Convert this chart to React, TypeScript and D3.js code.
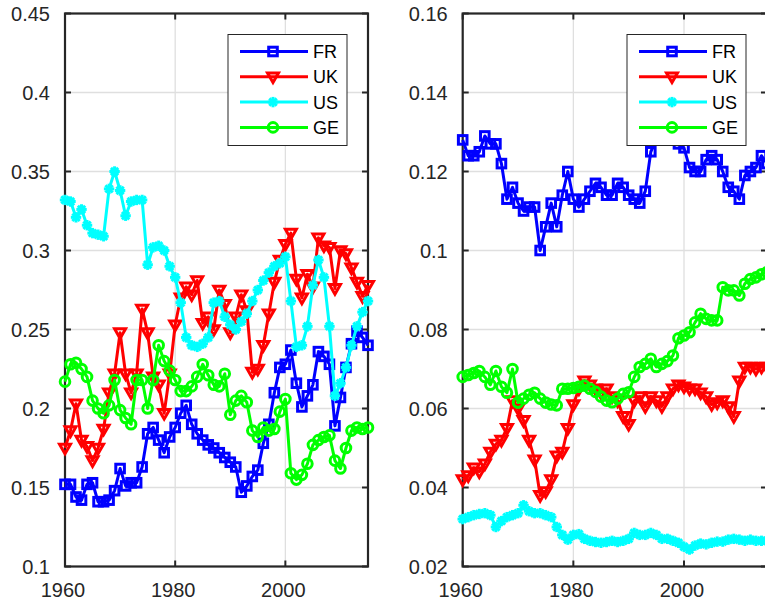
import React, { useEffect } from "react";
import * as d3 from "d3";

const years: number[] = d3.range(1960, 2016);
const seriesNames = ["FR", "UK", "US", "GE"];
const seriesColors = ["#0000ff", "#ff0000", "#00ffff", "#00ff00"];
const seriesMarkers = ["square", "triangle", "asterisk", "circle"];

// Left panel
const frLeft = [0.152,0.152,0.144,0.142,0.152,0.153,0.141,0.141,0.142,0.148,0.162,0.151,0.153,0.153,0.163,0.184,0.188,0.180,0.172,0.182,0.188,0.197,0.202,0.190,0.184,0.180,0.177,0.175,0.172,0.169,0.166,0.163,0.147,0.151,0.157,0.161,0.178,0.190,0.210,0.226,0.228,0.237,0.216,0.201,0.208,0.215,0.236,0.233,0.228,0.189,0.207,0.226,0.241,0.249,0.245,0.240];
const ukLeft = [0.175,0.186,0.203,0.180,0.176,0.167,0.175,0.187,0.210,0.222,0.248,0.222,0.210,0.222,0.263,0.248,0.220,0.215,0.197,0.222,0.253,0.270,0.277,0.272,0.281,0.254,0.258,0.250,0.275,0.266,0.248,0.258,0.272,0.262,0.223,0.225,0.240,0.260,0.280,0.294,0.304,0.311,0.282,0.270,0.285,0.277,0.308,0.303,0.302,0.276,0.300,0.298,0.289,0.280,0.271,0.278];
const usLeft = [0.332,0.331,0.321,0.326,0.316,0.311,0.310,0.309,0.339,0.350,0.338,0.322,0.331,0.332,0.332,0.291,0.302,0.303,0.300,0.290,0.283,0.267,0.245,0.240,0.239,0.241,0.245,0.267,0.268,0.258,0.253,0.250,0.255,0.260,0.268,0.275,0.281,0.286,0.290,0.292,0.296,0.268,0.239,0.240,0.252,0.278,0.294,0.283,0.252,0.208,0.216,0.226,0.240,0.252,0.261,0.268];
const geLeft = [0.217,0.228,0.229,0.225,0.220,0.205,0.200,0.197,0.202,0.218,0.199,0.194,0.190,0.218,0.218,0.200,0.218,0.240,0.230,0.224,0.218,0.211,0.211,0.214,0.220,0.228,0.221,0.215,0.214,0.222,0.196,0.205,0.208,0.204,0.186,0.182,0.188,0.186,0.187,0.198,0.206,0.159,0.155,0.158,0.165,0.177,0.180,0.182,0.183,0.167,0.162,0.175,0.186,0.188,0.187,0.188];

// Right panel
const frRight = [0.128,0.124,0.124,0.125,0.129,0.127,0.127,0.122,0.113,0.116,0.112,0.110,0.111,0.111,0.100,0.106,0.112,0.106,0.114,0.120,0.113,0.111,0.113,0.115,0.117,0.116,0.114,0.114,0.117,0.116,0.114,0.113,0.112,0.115,0.125,0.128,0.130,0.129,0.128,0.127,0.126,0.121,0.120,0.120,0.123,0.124,0.123,0.120,0.116,0.115,0.113,0.119,0.120,0.121,0.124,0.122];
const ukRight = [0.042,0.043,0.045,0.044,0.046,0.049,0.051,0.052,0.055,0.062,0.060,0.057,0.052,0.047,0.038,0.039,0.042,0.048,0.049,0.055,0.061,0.065,0.067,0.066,0.065,0.064,0.065,0.063,0.062,0.058,0.056,0.062,0.063,0.0605,0.063,0.062,0.0605,0.063,0.065,0.066,0.0655,0.065,0.065,0.064,0.063,0.061,0.0615,0.062,0.0605,0.058,0.067,0.0705,0.0705,0.070,0.0705,0.0705];
const usRight = [0.032,0.0325,0.033,0.0333,0.0335,0.033,0.030,0.0315,0.0325,0.033,0.0335,0.0355,0.034,0.0335,0.0335,0.033,0.0325,0.030,0.028,0.0268,0.028,0.0282,0.027,0.0265,0.0262,0.026,0.0262,0.0265,0.0262,0.0265,0.027,0.0285,0.028,0.028,0.0285,0.028,0.027,0.027,0.0265,0.026,0.025,0.0243,0.0253,0.0258,0.0256,0.026,0.0263,0.0263,0.0268,0.027,0.0268,0.0265,0.0268,0.0265,0.0265,0.0265];
const geRight = [0.068,0.0685,0.069,0.0695,0.068,0.066,0.0695,0.0655,0.064,0.070,0.0615,0.0625,0.0635,0.064,0.0625,0.0615,0.061,0.0608,0.065,0.065,0.0652,0.0655,0.0658,0.065,0.0642,0.063,0.062,0.0616,0.0625,0.0637,0.0641,0.068,0.0705,0.0713,0.0726,0.0705,0.0713,0.072,0.0734,0.0778,0.0785,0.0793,0.0818,0.084,0.0827,0.0823,0.0823,0.0907,0.0899,0.0899,0.0886,0.0916,0.0928,0.0932,0.094,0.0945];

const xTicks = [1960, 1980, 2000];
const leftYTicks = [0.1, 0.15, 0.2, 0.25, 0.3, 0.35, 0.4, 0.45];
const rightYTicks = [0.02, 0.04, 0.06, 0.08, 0.1, 0.12, 0.14, 0.16];

const AXIS = "#262626";
const GRID = "#dfdfdf";
const FONT = "'Liberation Sans', Arial, Helvetica, sans-serif";

function Marker({ type, x, y, color }: { type: string; x: number; y: number; color: string }) {
  const sw = 3;
  if (type === "square") {
    return <rect x={x - 4.3} y={y - 4.3} width={8.6} height={8.6} fill="none" stroke={color} strokeWidth={sw} />;
  }
  if (type === "triangle") {
    return (
      <path
        d={`M${x - 5.5},${y - 3.8}L${x + 5.5},${y - 3.8}L${x},${y + 5.8}Z`}
        fill="none"
        stroke={color}
        strokeWidth={sw}
        strokeLinejoin="miter"
      />
    );
  }
  if (type === "circle") {
    return <circle cx={x} cy={y} r={4.8} fill="none" stroke={color} strokeWidth={sw} />;
  }
  const r = 5.2;
  const d = r * 0.7071;
  return (
    <g stroke={color} strokeWidth={sw}>
      <line x1={x - r} y1={y} x2={x + r} y2={y} />
      <line x1={x} y1={y - r} x2={x} y2={y + r} />
      <line x1={x - d} y1={y - d} x2={x + d} y2={y + d} />
      <line x1={x - d} y1={y + d} x2={x + d} y2={y - d} />
    </g>
  );
}

type PanelProps = {
  left: number;
  right: number;
  top: number;
  bottom: number;
  yDomain: [number, number];
  yTicks: number[];
  data: number[][];
};

function Panel({ left, right, top, bottom, yDomain, yTicks, data }: PanelProps) {
  const x = d3.scaleLinear().domain([1960, 2015]).range([left, right]);
  const y = d3.scaleLinear().domain(yDomain).range([bottom, top]);
  const line = d3
    .line<number>()
    .x((_, i) => x(years[i]))
    .y((v) => y(v));
  const fmt = (v: number) => String(+v.toFixed(3));
  const tickLen = 6;
  const legX = right - 140;
  const legY = top + 21;
  return (
    <g>
      {xTicks.map((t) => (
        <line key={"gx" + t} x1={x(t)} x2={x(t)} y1={top} y2={bottom} stroke={GRID} strokeWidth={1.3} />
      ))}
      {yTicks.map((t) => (
        <line key={"gy" + t} x1={left} x2={right} y1={y(t)} y2={y(t)} stroke={GRID} strokeWidth={1.3} />
      ))}
      <rect x={left} y={top} width={right - left} height={bottom - top} fill="none" stroke={AXIS} strokeWidth={2.2} />
      {xTicks.map((t) => (
        <g key={"tx" + t}>
          <line x1={x(t)} x2={x(t)} y1={bottom} y2={bottom - tickLen} stroke={AXIS} strokeWidth={2} />
          <line x1={x(t)} x2={x(t)} y1={top} y2={top + tickLen} stroke={AXIS} strokeWidth={2} />
          <text x={x(t) - 2} y={bottom + 30} textAnchor="middle" fontSize={20} fill={AXIS} fontFamily={FONT}>
            {t}
          </text>
        </g>
      ))}
      {yTicks.map((t) => (
        <g key={"ty" + t}>
          <line x1={left} x2={left + tickLen} y1={y(t)} y2={y(t)} stroke={AXIS} strokeWidth={2} />
          <line x1={right} x2={right - tickLen} y1={y(t)} y2={y(t)} stroke={AXIS} strokeWidth={2} />
          <text x={left - 15} y={y(t) + 7} textAnchor="end" fontSize={20} fill={AXIS} fontFamily={FONT}>
            {fmt(t)}
          </text>
        </g>
      ))}
      {data.map((vals, si) => (
        <g key={"s" + si}>
          <path d={line(vals) || ""} fill="none" stroke={seriesColors[si]} strokeWidth={3} strokeLinejoin="round" />
          {vals.map((v, i) => (
            <Marker key={i} type={seriesMarkers[si]} x={x(years[i])} y={y(v)} color={seriesColors[si]} />
          ))}
        </g>
      ))}
      <g>
        <rect x={legX} y={legY} width={119} height={111} fill="#ffffff" stroke={AXIS} strokeWidth={1} />
        {seriesNames.map((name, i) => {
          const ry = legY + 17 + i * 25.3;
          return (
            <g key={name}>
              <line x1={legX + 12} x2={legX + 80} y1={ry} y2={ry} stroke={seriesColors[i]} strokeWidth={3} />
              <Marker type={seriesMarkers[i]} x={legX + 45} y={ry} color={seriesColors[i]} />
              <text x={legX + 85} y={ry + 6.5} fontSize={18} fill="#000" fontFamily={FONT}>
                {name}
              </text>
            </g>
          );
        })}
      </g>
    </g>
  );
}

export default function App() {
  useEffect(() => {
    document.body.style.margin = "0";
  }, []);
  return (
    <div style={{ position: "absolute", left: 0, top: 0 }}>
      <svg width={765} height={603} style={{ display: "block", background: "#fff" }}>
        <Panel
          left={65}
          right={368}
          top={13.5}
          bottom={566.5}
          yDomain={[0.1, 0.45]}
          yTicks={leftYTicks}
          data={[frLeft, ukLeft, usLeft, geLeft]}
        />
        <Panel
          left={462.7}
          right={767}
          top={13.5}
          bottom={566.5}
          yDomain={[0.02, 0.16]}
          yTicks={rightYTicks}
          data={[frRight, ukRight, usRight, geRight]}
        />
      </svg>
    </div>
  );
}
